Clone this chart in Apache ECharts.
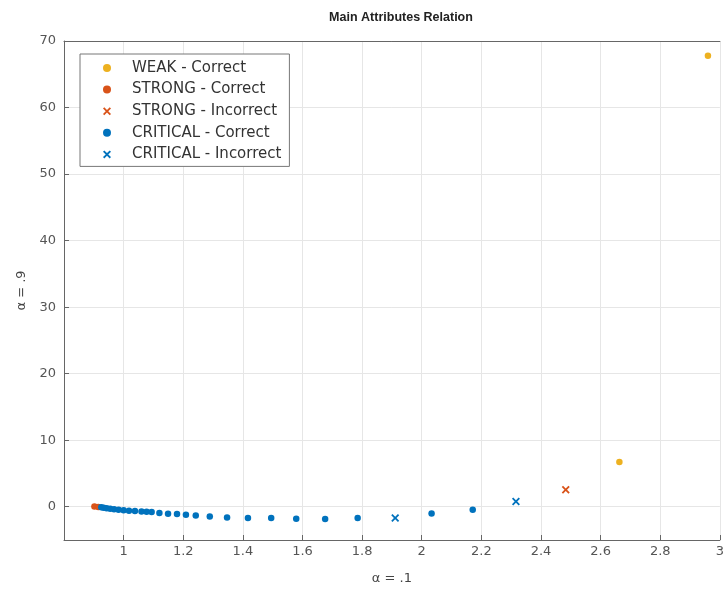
<!DOCTYPE html>
<html>
<head>
<meta charset="utf-8">
<script src="https://cdn.jsdelivr.net/npm/echarts@6/dist/echarts.min.js"></script>
<style>
  html, body { margin: 0; padding: 0; background: #fff; overflow: hidden; }
  #chart { width: 727px; height: 596px; }
</style>
</head>
<body>
<div id="chart"></div>
<script>
// values, [alpha .1, alpha .9]
const weakCorrect = [[2.663, 6.73], [2.960, 67.8]];
const strongCorrect = [[0.902, 0.02], [0.915, -0.04]];
const strongIncorrect = [[2.483, 2.56]];
const criticalCorrect = [
    [0.925, -0.09], [0.933, -0.15], [0.943, -0.23], [0.955, -0.30], [0.968, -0.38],
    [0.983, -0.45], [1.000, -0.53], [1.018, -0.60], [1.038, -0.65], [1.060, -0.71],
    [1.077, -0.75], [1.094, -0.80], [1.120, -0.95], [1.149, -1.05], [1.179, -1.10],
    [1.209, -1.20], [1.242, -1.31], [1.289, -1.46], [1.347, -1.61], [1.417, -1.70],
    [1.495, -1.70], [1.579, -1.81], [1.676, -1.85], [1.785, -1.70], [2.033, -1.01],
    [2.171, -0.45]
];
const criticalIncorrect = [[1.911, -1.70], [2.316, 0.80]];

const seriesNames = ['WEAK - Correct', 'STRONG - Correct', 'STRONG - Incorrect', 'CRITICAL - Correct', 'CRITICAL - Incorrect'];
const colors = ['#EDB120', '#D95319', '#D95319', '#0072BD', '#0072BD'];

const crossIcon = 'path://M0,1.6L1.6,0L5,3.4L8.4,0L10,1.6L6.6,5L10,8.4L8.4,10L5,6.6L1.6,10L0,8.4L3.4,5Z';
const labelFont = 'DejaVu Sans';

function makeSeries(name, data, color, isCross) {
    return {
        type: 'scatter',
        name: name,
        data: data,
        symbol: isCross ? crossIcon : 'circle',
        symbolSize: isCross ? 8 : 6.5,
        itemStyle: { color: color, opacity: 1 },
        emphasis: { disabled: true },
        z: isCross ? 3 : 2
    };
}

const chart = echarts.init(document.getElementById('chart'));
chart.setOption({
    animation: false,
    title: {
        text: 'Main Attributes Relation',
        left: 396,
        top: 6,
        textAlign: 'center',
        textStyle: { fontFamily: 'Liberation Sans', fontSize: 12.5, fontWeight: 'bold', color: '#222' }
    },
    legend: {
        orient: 'vertical',
        left: 80,
        top: 54,
        padding: [6, 8, 4, 23],
        itemWidth: 32,
        itemHeight: 8,
        itemGap: 5.6,
        backgroundColor: '#fff',
        borderColor: '#777',
        borderWidth: 1,
        borderRadius: 0,
        textStyle: { fontFamily: labelFont, fontSize: 15, color: '#333', lineHeight: 16, padding: [0, 0, 0, 4] },
        data: seriesNames
    },
    grid: { left: 64, right: 5, top: 41, bottom: 56, containLabel: false },
    xAxis: [{
        type: 'value',
        min: 0.8,
        max: 3,
        interval: 0.2,
        name: 'α = .1',
        nameLocation: 'middle',
        nameGap: 32,
        nameTextStyle: { fontFamily: labelFont, fontSize: 13, color: '#444' },
        axisLine: { show: true, onZero: false, lineStyle: { color: '#666', width: 1 } },
        axisTick: { show: true, inside: true, length: 5, lineStyle: { color: '#666' } },
        axisLabel: {
            fontFamily: labelFont, fontSize: 13, color: '#555', margin: 5,
            showMinLabel: false,
            formatter: function (v) { return String(Math.round(v * 10) / 10); }
        },
        splitLine: { show: true, lineStyle: { color: '#e6e6e6' } }
    }, {
        type: 'value',
        position: 'top',
        min: 0.8,
        max: 3,
        axisLine: { show: true, onZero: false, lineStyle: { color: '#666' } },
        axisTick: { show: false },
        axisLabel: { show: false },
        splitLine: { show: false }
    }],
    yAxis: {
        type: 'value',
        min: -5,
        max: 70,
        splitNumber: 7,
        name: 'α = .9',
        nameLocation: 'middle',
        nameGap: 34,
        nameTextStyle: { fontFamily: labelFont, fontSize: 13, color: '#444' },
        axisLine: { show: true, onZero: false, lineStyle: { color: '#666', width: 1 } },
        axisTick: { show: true, inside: true, length: 5, lineStyle: { color: '#666' } },
        axisLabel: { fontFamily: labelFont, fontSize: 13, color: '#555', margin: 8, showMinLabel: false },
        splitLine: { show: true, lineStyle: { color: '#e6e6e6' } }
    },
    series: [
        makeSeries(seriesNames[0], weakCorrect, colors[0], false),
        makeSeries(seriesNames[1], strongCorrect, colors[1], false),
        makeSeries(seriesNames[2], strongIncorrect, colors[2], true),
        makeSeries(seriesNames[3], criticalCorrect, colors[3], false),
        makeSeries(seriesNames[4], criticalIncorrect, colors[4], true)
    ]
});
</script>
</body>
</html>
